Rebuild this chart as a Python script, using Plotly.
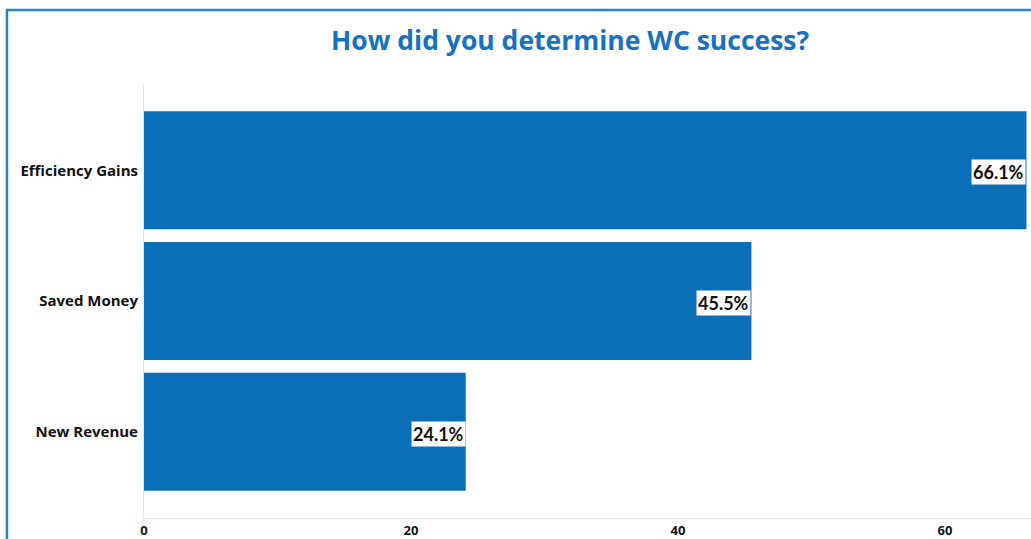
import plotly.graph_objects as go

categories = ["New Revenue", "Saved Money", "Efficiency Gains"]
values = [24.1, 45.5, 66.1]
labels = ["24.1%", "45.5%", "66.1%"]
tick_vals = [0, 20, 40, 60]

BAR = "#0b6fb8"
BLUE = "#1672c0"
FONT = "'Open Sans', Lato, sans-serif"
LFONT = "Lato, 'Open Sans', sans-serif"

fig = go.Figure()
fig.add_trace(go.Bar(
    y=categories, x=values, orientation="h",
    marker=dict(color=BAR, line=dict(width=0)),
    hoverinfo="skip",
))

for c, v, t in zip(categories, values, labels):
    fig.add_annotation(
        x=v, y=c, xref="x", yref="y", yshift=-2, text="<b>%s</b>" % t,
        showarrow=False, xanchor="right", yanchor="middle",
        bgcolor="white", borderpad=1,
        font=dict(family=LFONT, size=18, color="#111111"),
    )

# outer blue frame
fig.add_shape(type="rect", xref="paper", yref="paper",
              x0=-0.1545, x1=1.02, y0=-0.25, y1=1.1705,
              line=dict(color="#2a80d0", width=2.5), layer="above")

fig.update_layout(
    width=1031, height=539,
    margin=dict(l=144, r=0, t=84, b=21),
    paper_bgcolor="white", plot_bgcolor="white",
    bargap=0.096,
    showlegend=False,
    title=dict(text="<b>How did you determine WC success?</b>",
               x=0.553, xanchor="center", y=0.924, yanchor="middle",
               font=dict(family=FONT, size=26.5, color=BLUE)),
    xaxis=dict(range=[0, 66.44], tickvals=tick_vals,
               ticktext=["<b>%d</b>" % v for v in tick_vals],
               showgrid=False, zeroline=False,
               showline=True, linecolor="#e6e6e6", linewidth=1,
               ticks="", tickfont=dict(family=FONT, size=13, color="#111111"),
               fixedrange=True),
    yaxis=dict(range=[-0.66, 2.66], showgrid=False, zeroline=False,
               showline=True, linecolor="#e6e6e6", linewidth=1,
               ticks="", ticklabelstandoff=2,
               tickvals=categories,
               ticktext=["<b>%s</b>" % c for c in categories],
               tickfont=dict(family=FONT, size=15, color="#111111"),
               fixedrange=True),
)

fig.write_html("out.html")
